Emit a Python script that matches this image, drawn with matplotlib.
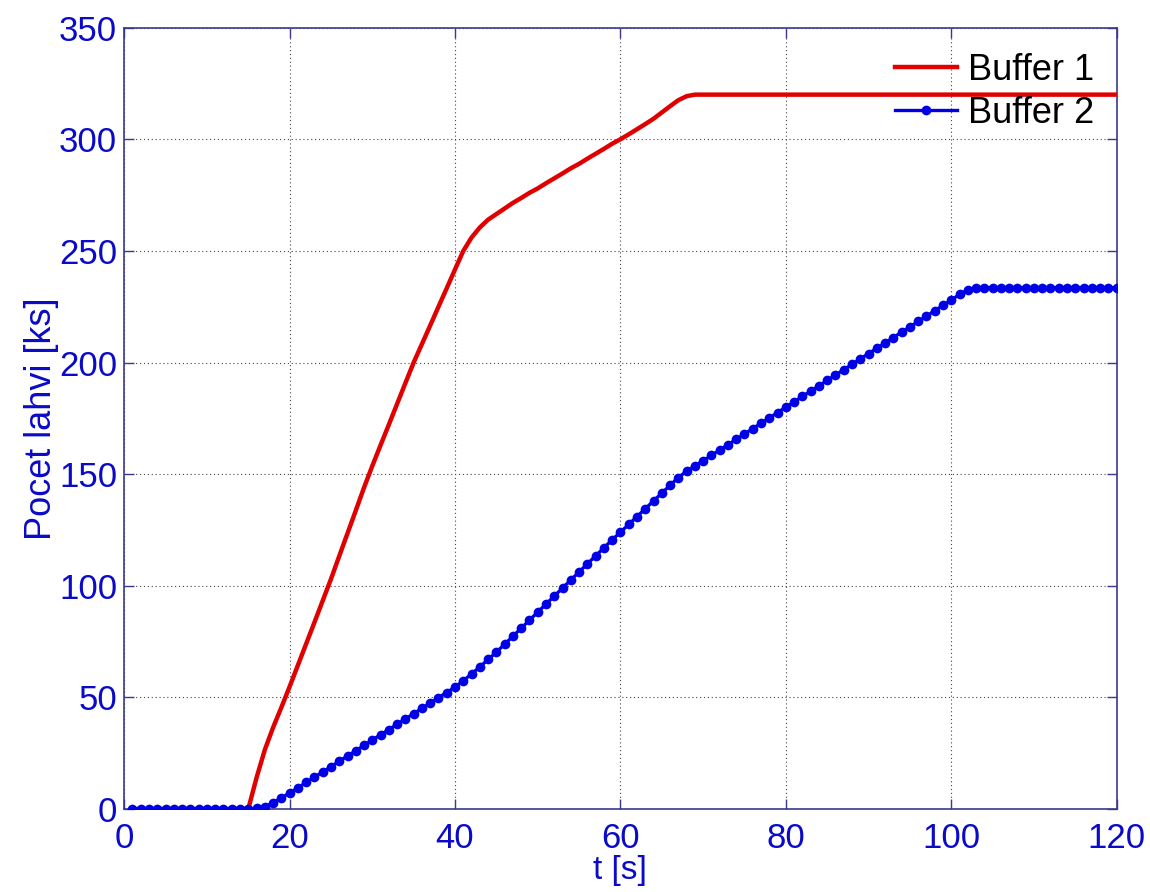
import numpy as np
import matplotlib
matplotlib.use("Agg")
import matplotlib.pyplot as plt

t = list(range(1, 121))

buffer1 = ([0.0] * 15 +
           [14, 26.5, 36.5, 45.5, 54.8, 64.4, 74, 83.6, 93.3, 103,
            113.3, 123.5, 133.7, 144, 153.7, 163, 172.2, 181.5, 190.8, 200,
            208.3, 216.6, 225, 233.3, 241.7, 250, 256, 260.5, 264, 266.5,
            269, 271.5, 273.7, 276, 278, 280.3, 282.5, 284.7, 287, 289,
            291.3, 293.5, 295.7, 298, 300, 302.2, 304.5, 306.8, 309.2, 312,
            314.8, 317.5, 319.3, 320] +
           [320.0] * 51)

buffer2 = ([0.0] * 15 +
           [0.3, 1, 2.8, 5, 7.2, 9.5, 11.9, 14.3, 16.6, 19,
            21.4, 23.8, 26.1, 28.5, 30.9, 33.3, 35.6, 38, 40.4, 42.7,
            45.1, 47.5, 49.9, 52.2, 54.6, 57.5, 60.5, 63.7, 67, 70.3,
            73.8, 77.4, 81, 84.6, 88.2, 91.8, 95.4, 99, 102.6, 106.2,
            109.8, 113.4, 117, 120.6, 124, 127.5, 131, 134.5, 138, 141.5,
            145, 148.5, 151.3, 153.7, 156, 158.4, 160.8, 163.2, 165.6, 168,
            170.4, 172.8, 175.2, 177.6, 180, 182.4, 184.8, 187.2, 189.6, 192,
            194.4, 196.8, 199.2, 201.6, 204, 206.4, 208.8, 211.2, 213.6, 216,
            218.4, 220.8, 223.2, 225.6, 228, 230.5, 232.5, 233.5] +
           [233.5] * 17)

xticks = [0, 20, 40, 60, 80, 100, 120]
yticks = [0, 50, 100, 150, 200, 250, 300, 350]

plt.rcParams['font.family'] = ['Liberation Sans', 'DejaVu Sans']

fig = plt.figure(figsize=(11.5, 8.92), dpi=100)
ax = fig.add_axes([0.108, 0.093, 0.863, 0.876])

ax.plot(t, buffer1, color='#e00000', linewidth=3.2, label='Buffer 1', zorder=3)
ax.plot(t, buffer2, color='#0000e6', linewidth=2.4, marker='o', markersize=7,
        markeredgewidth=0, label='Buffer 2', zorder=3)

ax.set_xlim(0, 120)
ax.set_ylim(0, 350)
ax.set_xticks(xticks)
ax.set_yticks(yticks)
ax.grid(True, linestyle=(0, (1, 2.5)), color='#444444', linewidth=0.8)

tick_color = '#0a0ac8'
ax.tick_params(axis='both', direction='in', length=7.5, width=1,
               colors='#3a3a8c', labelcolor=tick_color, labelsize=25)
ax.tick_params(axis='x', pad=9)
ax.tick_params(axis='y', pad=5)
for s in ax.spines.values():
    s.set_color('#3a3a8c')
    s.set_linewidth(1.2)
ax.tick_params(top=True, right=True)

ax.set_xlabel('t [s]', color=tick_color, fontsize=24, labelpad=0)
ax.set_ylabel('Pocet lahvi [ks]', color=tick_color, fontsize=26, labelpad=0)

leg = ax.legend(loc='upper right', bbox_to_anchor=(0.977, 0.968),
                frameon=False, fontsize=26, borderpad=0, borderaxespad=0,
                handlelength=1.7, handletextpad=0.3, labelspacing=0.22)

fig.savefig('out.png', dpi=100, facecolor='white')
